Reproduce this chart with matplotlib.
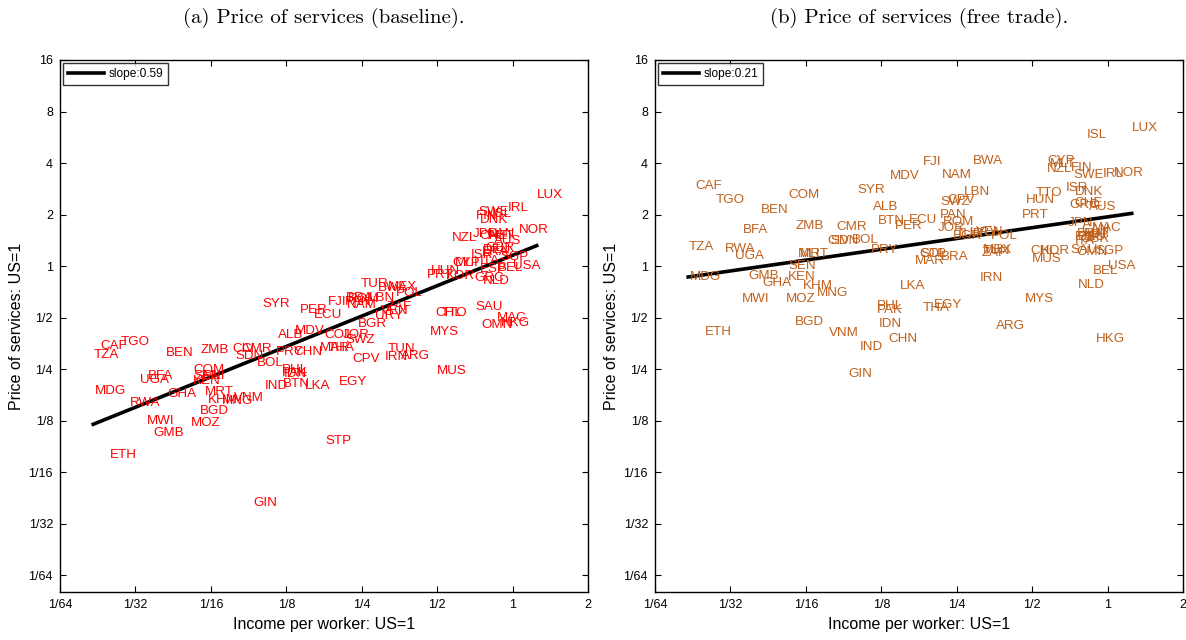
import numpy as np
import matplotlib
matplotlib.use("Agg")
import matplotlib.pyplot as plt

plt.rcParams['font.family'] = ['Liberation Sans', 'DejaVu Sans']

# country codes, log2 income per worker (US=1), log2 price of services (US=1)
codes = ['TZA', 'CAF', 'TGO', 'BEN', 'ZMB', 'MDG', 'UGA', 'BFA', 'RWA', 'GHA',
         'MWI', 'GMB', 'ETH', 'COM', 'SEN', 'KEN', 'MLI', 'MRT', 'KHM', 'MNG',
         'VNM', 'BGD', 'MOZ', 'GIN', 'IND', 'SYR', 'CIV', 'CMR', 'SDN', 'BOL',
         'PRY', 'CHN', 'ALB', 'MDV', 'PHL', 'PAK', 'IDN', 'BTN', 'LKA', 'PER',
         'ECU', 'FJI', 'COL', 'STP', 'MAR', 'THA', 'EGY', 'BRA', 'ROM', 'NAM',
         'PAN', 'JOR', 'SWZ', 'CPV', 'LBN', 'TUR', 'BGR', 'BWA', 'MEX', 'POL',
         'URY', 'ZAF', 'VEN', 'IRN', 'TUN', 'ARG', 'CHL', 'TTO', 'MYS', 'MUS',
         'KOR', 'PRT', 'HUN', 'CYP', 'MLT', 'NZL', 'JPN', 'ISR', 'ESP', 'GRC',
         'NLD', 'SAU', 'OMN', 'MAC', 'HKG', 'SGP', 'BEL', 'USA', 'NOR', 'IRL',
         'LUX', 'ISL', 'SWE', 'FIN', 'DNK', 'CHE', 'AUS', 'AUT', 'CAN', 'DEU',
         'FRA', 'GBR', 'ITA']

log_income = [-5.56, -5.46, -5.20, -4.59, -4.13, -5.54, -4.94, -4.84, -5.08, -4.57,
              -4.85, -4.76, -5.34, -4.23, -4.23, -4.24, -4.11, -4.08, -4.04, -3.85,
              -3.70, -4.15, -4.26, -3.44, -3.28, -3.32, -3.71, -3.59, -3.67, -3.39,
              -3.14, -2.91, -3.11, -2.88, -3.06, -3.06, -3.03, -3.05, -2.76, -2.82,
              -2.63, -2.45, -2.50, -2.48, -2.56, -2.45, -2.30, -2.21, -2.19, -2.20,
              -2.22, -2.25, -2.21, -2.12, -1.90, -2.01, -2.05, -1.78, -1.65, -1.55,
              -1.83, -1.67, -1.74, -1.70, -1.65, -1.48, -1.02, -0.96, -1.10, -1.01,
              -0.88, -1.14, -1.08, -0.80, -0.76, -0.81, -0.53, -0.56, -0.43, -0.50,
              -0.40, -0.49, -0.41, -0.21, -0.16, -0.16, -0.20, 0.00, 0.09, -0.06,
              0.32, -0.28, -0.45, -0.48, -0.44, -0.44, -0.25, -0.32, -0.35, -0.39,
              -0.41, -0.36, -0.43]

log_price_base = [-1.73, -1.55, -1.48, -1.69, -1.64, -2.42, -2.21, -2.13, -2.66, -2.49,
                  -3.00, -3.24, -3.67, -2.02, -2.14, -2.24, -2.14, -2.44, -2.61, -2.63,
                  -2.56, -2.81, -3.05, -4.61, -2.33, -0.73, -1.62, -1.62, -1.74, -1.88,
                  -1.67, -1.67, -1.34, -1.27, -2.02, -2.07, -2.10, -2.29, -2.33, -0.85,
                  -0.96, -0.70, -1.34, -3.39, -1.59, -1.59, -2.26, -0.63, -0.64, -0.75,
                  -0.70, -1.34, -1.43, -1.80, -0.63, -0.35, -1.13, -0.42, -0.40, -0.52,
                  -0.98, -0.80, -0.87, -1.76, -1.62, -1.74, -0.91, -0.91, -1.29, -2.03,
                  -0.19, -0.17, -0.10, 0.05, 0.05, 0.54, 0.63, 0.21, -0.06, -0.24,
                  -0.29, -0.80, -1.15, -1.01, -1.10, 0.17, -0.03, 0.00, 0.70, 1.13,
                  1.38, 1.01, 1.05, 0.98, 0.89, 0.59, 0.49, 0.59, 0.63, 0.31,
                  0.28, 0.35, 0.10]

log_price_ft = [0.37, 1.56, 1.29, 1.09, 0.77, -0.22, 0.20, 0.70, 0.33, -0.33,
                -0.65, -0.20, -1.29, 1.37, 0.00, -0.22, 0.23, 0.23, -0.38, -0.52,
                -1.30, -1.08, -0.65, -2.09, -1.58, 1.48, 0.49, 0.76, 0.49, 0.50,
                0.31, -1.41, 1.15, 1.74, -0.77, -0.86, -1.13, 0.87, -0.38, 0.77,
                0.89, 2.02, 0.23, 0.23, 0.10, -0.82, -0.75, 0.17, 0.85, 1.76,
                1.00, 0.73, 1.24, 1.29, 1.44, 0.63, 0.59, 2.04, 0.31, 0.58,
                0.65, 0.26, 0.66, -0.23, 0.29, -1.17, 0.30, 1.41, -0.65, 0.13,
                0.29, 1.00, 1.29, 2.03, 1.99, 1.88, 0.84, 1.52, 0.56, 1.18,
                -0.37, 0.31, 0.28, 0.74, -1.41, 0.29, -0.10, 0.00, 1.81, 1.78,
                2.67, 2.54, 1.76, 1.90, 1.43, 1.23, 1.15, 0.63, 0.70, 0.56,
                0.63, 0.52, 0.49]

# fitted lines in log2 units: log2(p) = const + slope * log2(y)
fit_slope = [0.59, 0.21]
fit_const = [0.207, 0.954]

titles = ['(a) Price of services (baseline).', '(b) Price of services (free trade).']
colors = ['#ff0000', '#c0601a']

x_ticks = 2.0 ** np.arange(-6, 2)
x_labels = ['1/64', '1/32', '1/16', '1/8', '1/4', '1/2', '1', '2']
y_ticks = 2.0 ** np.arange(-6, 5)
y_labels = ['1/64', '1/32', '1/16', '1/8', '1/4', '1/2', '1', '2', '4', '8', '16']

income = np.exp2(log_income)
prices = [np.exp2(log_price_base), np.exp2(log_price_ft)]

fig = plt.figure(figsize=(11.86, 6.4), dpi=100)
W, H = 1186.0, 640.0
lefts = [60, 655]

for k in range(2):
    ax = fig.add_axes([lefts[k] / W, (H - 592) / H, 528 / W, 532 / H])
    ax.set_xscale('log', base=2)
    ax.set_yscale('log', base=2)
    ax.set_xlim(1 / 64, 2)
    ax.set_ylim(2.0 ** -6.33, 16)

    for c, xv, yv in zip(codes, income, prices[k]):
        ax.text(xv, yv, c, color=colors[k], fontsize=9.6, ha='left', va='center')

    lx = np.array([min(log_income), max(log_income)])
    ly = fit_const[k] + fit_slope[k] * lx
    ax.plot(np.exp2(lx), np.exp2(ly), color='black', lw=2.6,
            label='slope:%.2f' % fit_slope[k])

    leg = ax.legend(loc='upper left', fontsize=8.6, frameon=True, fancybox=False,
                    borderaxespad=0.25, handlelength=3.0, handletextpad=0.4,
                    borderpad=0.4)
    leg.get_frame().set_edgecolor('black')
    leg.get_frame().set_linewidth(1.0)

    ax.set_xticks(x_ticks)
    ax.set_xticklabels(x_labels)
    ax.set_yticks(y_ticks)
    ax.set_yticklabels(y_labels)
    ax.minorticks_off()
    ax.tick_params(direction='in', length=4, width=0.8, top=True, right=True,
                   labelsize=9, pad=5)
    for s in ax.spines.values():
        s.set_linewidth(1.0)

    ax.set_xlabel('Income per worker: US=1', fontsize=11.5, labelpad=4)
    ax.set_ylabel('Price of services: US=1', fontsize=11.5, labelpad=3)

    fig.text((lefts[k] + 264) / W, 1 - 18 / H, titles[k], ha='center', va='center',
             fontsize=15, family='cmr10')

fig.savefig('out.png', dpi=100)
